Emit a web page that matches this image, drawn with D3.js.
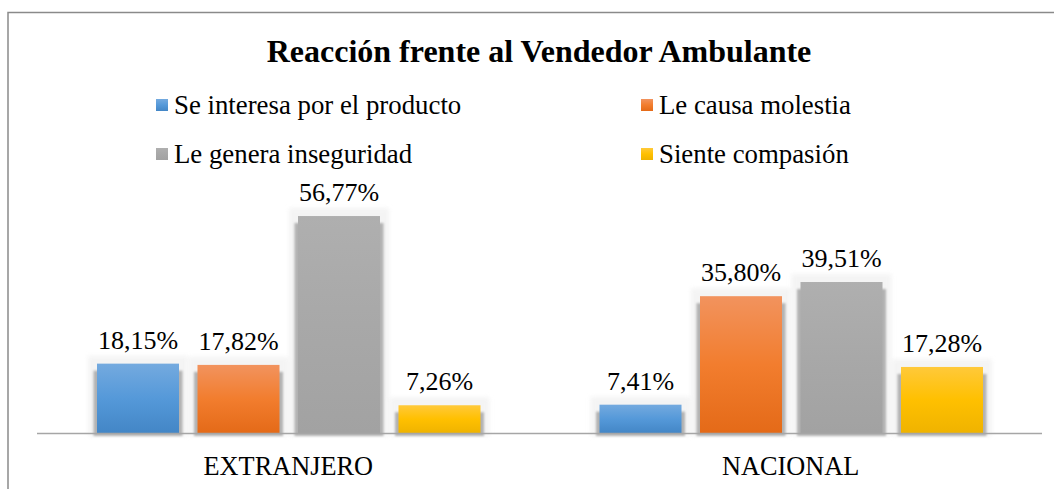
<!DOCTYPE html>
<html><head><meta charset="utf-8">
<script src="https://cdn.jsdelivr.net/npm/d3@7"></script>
<style>html,body{margin:0;padding:0;background:#fff;}svg{display:block;}</style>
</head><body>
<svg id="chart" width="1054" height="489"></svg>
<script>
const categories = ["EXTRANJERO", "NACIONAL"];
const seriesNames = ["Se interesa por el producto", "Le causa molestia", "Le genera inseguridad", "Siente compasión"];
const valuesExtranjero = [18.15, 17.82, 56.77, 7.26];
const valuesNacional = [7.41, 35.80, 39.51, 17.28];
const titleText = "Reacción frente al Vendedor Ambulante";

const gradStops = [
  ["#74aadf", "#5599d9", "#4386c6"],
  ["#f2935e", "#f27d2e", "#e46a18"],
  ["#afafaf", "#a8a8a8", "#a2a2a2"],
  ["#ffc93a", "#ffc000", "#efb300"]
];

const svg = d3.select("#chart");
const W = 1054, H = 489;
const font = "'Liberation Serif','Times New Roman',serif";

const defs = svg.append("defs");
gradStops.forEach((s, i) => {
  const g = defs.append("linearGradient").attr("id", "g" + i).attr("x1", 0).attr("y1", 0).attr("x2", 0).attr("y2", 1);
  g.append("stop").attr("offset", "0%").attr("stop-color", s[0]);
  g.append("stop").attr("offset", "50%").attr("stop-color", s[1]);
  g.append("stop").attr("offset", "100%").attr("stop-color", s[2]);
});
defs.append("filter").attr("id", "blurS").attr("x", "-20%").attr("y", "-20%").attr("width", "140%").attr("height", "140%")
  .append("feGaussianBlur").attr("stdDeviation", 0.8);
defs.append("filter").attr("id", "blurH").attr("x", "-20%").attr("y", "-20%").attr("width", "140%").attr("height", "140%")
  .append("feGaussianBlur").attr("stdDeviation", 2);

// outer border
svg.append("rect").attr("x", 8).attr("y", 12.5).attr("width", W + 20).attr("height", H + 20)
  .attr("fill", "none").attr("stroke", "#8a8a8a").attr("stroke-width", 1.5);

// title
svg.append("text").attr("x", 539).attr("y", 62).attr("text-anchor", "middle")
  .attr("font-family", font).attr("font-weight", "bold").attr("font-size", 32).attr("fill", "#000")
  .text(titleText);

// legend
const legendPos = [[156, 105], [641, 105], [156, 154], [641, 154]];
seriesNames.forEach((n, i) => {
  const [lx, ly] = legendPos[i];
  svg.append("rect").attr("x", lx).attr("y", ly - 6).attr("width", 12).attr("height", 12).attr("fill", `url(#g${i})`);
  svg.append("text").attr("x", lx + 18).attr("y", ly + 9).attr("font-family", font).attr("font-size", 26.8).attr("fill", "#000").text(n);
});

// scales
const baseY = 433;
const x0 = d3.scaleBand().domain(categories).range([37, 1042]).padding(0);
const x1 = d3.scaleBand().domain(seriesNames).range([50.75, 452.75]).paddingInner(0.184).paddingOuter(0.092);
const y = d3.scaleLinear().domain([0, 60]).range([baseY, baseY - 229.3]);

const data = [valuesExtranjero, valuesNacional];
const fmt = v => d3.format(".2f")(v).replace(".", ",") + "%";

data.forEach((vals, ci) => {
  const g = svg.append("g").attr("transform", `translate(${x0(categories[ci])},0)`);
  vals.forEach((v, si) => {
    const bx = x1(seriesNames[si]), bw = x1.bandwidth(), by = y(v), bh = baseY - by;
    g.append("rect").attr("x", bx - 9).attr("y", by - 8).attr("width", bw + 18).attr("height", bh + 11)
      .attr("fill", "#ededed").attr("opacity", 0.6).attr("filter", "url(#blurH)");
    g.append("rect").attr("x", bx - 3.5).attr("y", by + 7).attr("width", bw + 7).attr("height", Math.max(0, bh - 7) + 3)
      .attr("fill", "#b2b2b2").attr("filter", "url(#blurS)");
    g.append("rect").attr("x", bx).attr("y", by).attr("width", bw).attr("height", bh).attr("fill", `url(#g${si})`);
    g.append("text").attr("x", bx + bw / 2).attr("y", by - 15).attr("text-anchor", "middle")
      .attr("font-family", font).attr("font-size", 26).attr("fill", "#000").text(fmt(v));
  });
});

// axis line
svg.append("line").attr("x1", 37).attr("x2", 1042).attr("y1", baseY + 0.5).attr("y2", baseY + 0.5)
  .attr("stroke", "#a6a6a6").attr("stroke-width", 1.5);

// category labels via axis
const axis = svg.append("g").attr("transform", `translate(0,${baseY})`).call(d3.axisBottom(x0).tickSize(0).tickPadding(0));
axis.select(".domain").remove();
axis.selectAll("text").attr("font-family", font).attr("font-size", 26.3).attr("fill", "#000").attr("dy", null).attr("y", 42);
</script>
</body></html>
